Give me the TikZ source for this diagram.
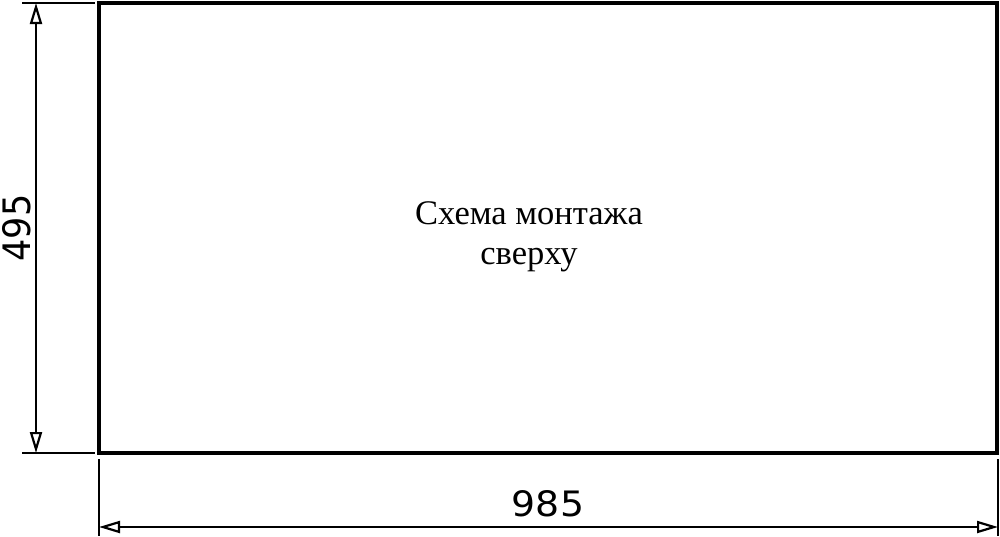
\documentclass[tikz,border=0pt]{standalone}
\usepackage{fontspec}
\setmainfont{Liberation Serif}
\newfontfamily\dimfont{DejaVu Sans}
\usetikzlibrary{arrows.meta}
\tikzstyle{outline}=[line width=3.4pt]
\tikzstyle{extline}=[line width=2.4pt]
\tikzstyle{dimline}=[line width=2.4pt,>={Triangle[open,length=21pt,width=12pt,line width=2.2pt]},<->]
\tikzstyle{dimtext}=[font=\dimfont\fontsize{35}{35}\selectfont,inner sep=0pt,xscale=1.08]
\tikzstyle{title}=[font=\fontsize{34.5}{40}\selectfont,align=center,inner sep=0pt]

\begin{document}
\begin{tikzpicture}[x=1pt,y=-1pt]
    \useasboundingbox (0,0) rectangle (1000,536);
    % sink outline
    \coordinate (tl) at (99,3);
    \coordinate (br) at (997,453);
    \draw[outline] (tl) rectangle (br);
    \node[title] (name) at (529,237) {Схема монтажа\\сверху};
    % height 495
    \coordinate (et1) at (22,3);
    \coordinate (et2) at (95,3);
    \coordinate (eb1) at (22,453);
    \coordinate (eb2) at (95,453);
    \draw[extline] (et1) -- (et2);
    \draw[extline] (eb1) -- (eb2);
    \coordinate (ht) at (36,3);
    \coordinate (hb) at (36,453);
    \draw[dimline] (ht) -- (hb);
    \node[dimtext,rotate=90] (h) at (17,228) {495};
    % width 985
    \coordinate (el1) at (99,459);
    \coordinate (el2) at (99,536);
    \coordinate (er1) at (998,459);
    \coordinate (er2) at (998,536);
    \draw[extline] (el1) -- (el2);
    \draw[extline] (er1) -- (er2);
    \coordinate (wl) at (99,527);
    \coordinate (wr) at (998,527);
    \draw[dimline] (wl) -- (wr);
    \node[dimtext] (w) at (548,504) {985};
\end{tikzpicture}
\end{document}
